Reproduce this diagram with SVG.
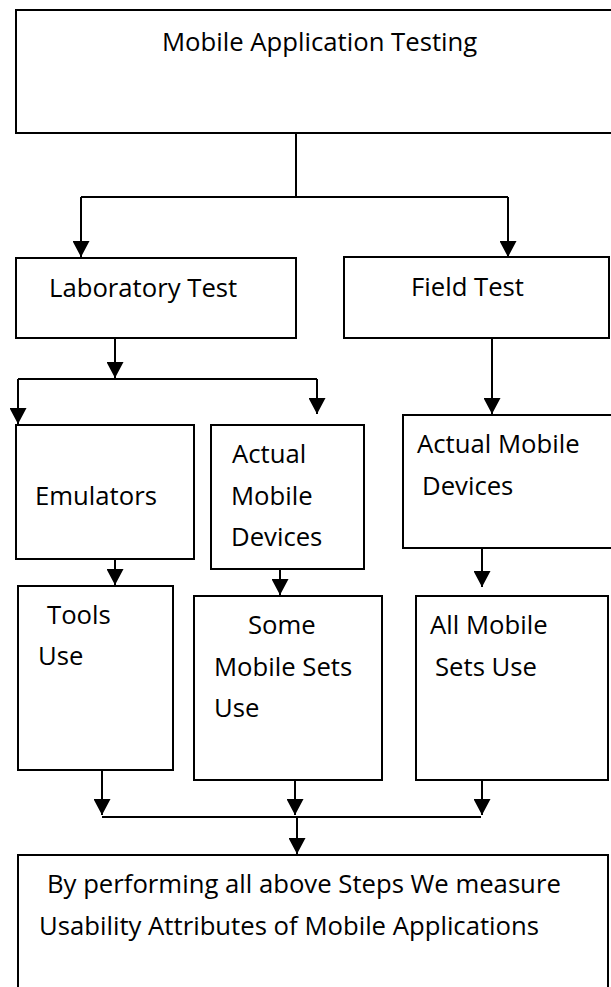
<svg xmlns="http://www.w3.org/2000/svg" width="611" height="987" viewBox="0 0 611 987">
  <style>
    .box { fill: #ffffff; stroke: #000000; stroke-width: 2; }
    .lbl { font-family: "Open Sans", "Liberation Sans", sans-serif; font-size: 25.7px; fill: #000000; }
    .wire { fill: none; stroke: #000000; stroke-width: 2; }
    .arrow { fill: none; stroke: #000000; stroke-width: 2; marker-end: url(#head); }
  </style>
  <defs>
    <marker id="head" markerUnits="userSpaceOnUse" markerWidth="17" markerHeight="17" refX="16" refY="8.5" orient="auto">
      <path d="M0,0 L16,8.5 L0,17 z" fill="#000000"/>
    </marker>
  </defs>
  <rect width="611" height="987" fill="#ffffff"/>

  <!-- nodes -->
  <g id="mobile-application-testing">
    <rect class="box" x="16" y="10" width="600" height="123"/>
    <text class="lbl" x="162" y="51">Mobile Application Testing</text>
  </g>
  <g id="laboratory-test">
    <rect class="box" x="16" y="258" width="280" height="80"/>
    <text class="lbl" x="49" y="297">Laboratory Test</text>
  </g>
  <g id="field-test">
    <rect class="box" x="344" y="257" width="265" height="81"/>
    <text class="lbl" x="411" y="296">Field Test</text>
  </g>
  <g id="emulators">
    <rect class="box" x="16" y="425" width="178" height="134"/>
    <text class="lbl" x="35" y="505">Emulators</text>
  </g>
  <g id="lab-actual-devices">
    <rect class="box" x="211" y="425" width="153" height="144"/>
    <text class="lbl" x="232" y="463">Actual</text>
    <text class="lbl" x="231" y="505">Mobile</text>
    <text class="lbl" x="231" y="546">Devices</text>
  </g>
  <g id="field-actual-devices">
    <rect class="box" x="403" y="415" width="212" height="133"/>
    <text class="lbl" x="417" y="453">Actual Mobile</text>
    <text class="lbl" x="422" y="495">Devices</text>
  </g>
  <g id="tools-use">
    <rect class="box" x="18" y="586" width="155" height="184"/>
    <text class="lbl" x="47" y="624">Tools</text>
    <text class="lbl" x="38" y="665">Use</text>
  </g>
  <g id="some-mobile-sets">
    <rect class="box" x="194" y="596" width="188" height="184"/>
    <text class="lbl" x="248" y="634">Some</text>
    <text class="lbl" x="214" y="676">Mobile Sets</text>
    <text class="lbl" x="214" y="717">Use</text>
  </g>
  <g id="all-mobile-sets">
    <rect class="box" x="416" y="596" width="192" height="184"/>
    <text class="lbl" x="430" y="634">All Mobile</text>
    <text class="lbl" x="435" y="676">Sets Use</text>
  </g>
  <g id="usability-attributes">
    <rect class="box" x="18" y="855" width="590" height="150"/>
    <text class="lbl" x="47" y="893">By performing all above Steps We measure</text>
    <text class="lbl" x="39" y="935">Usability Attributes of Mobile Applications</text>
  </g>

  <!-- connectors -->
  <g id="connectors">
    <path class="wire" d="M296,133 V197 M81,197 H508"/>
    <path class="arrow" d="M81,197 V257"/>
    <path class="arrow" d="M508,197 V257"/>

    <path class="arrow" d="M115,338 V378"/>
    <path class="wire" d="M18,379 H317"/>
    <path class="arrow" d="M18,379 V424"/>
    <path class="arrow" d="M317,379 V414"/>

    <path class="arrow" d="M492,338 V414"/>

    <path class="arrow" d="M115,559 V585"/>
    <path class="arrow" d="M280,569 V595"/>
    <path class="arrow" d="M482,548 V587"/>

    <path class="arrow" d="M102,770 V815"/>
    <path class="arrow" d="M295,780 V815"/>
    <path class="arrow" d="M482,780 V815"/>
    <path class="wire" d="M102,817 H481"/>
    <path class="arrow" d="M297,817 V854"/>
  </g>
</svg>
